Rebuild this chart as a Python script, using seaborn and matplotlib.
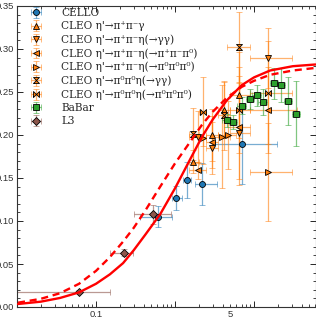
import numpy as np
import pandas as pd
import matplotlib
matplotlib.use("Agg")
import matplotlib.pyplot as plt
import matplotlib.ticker as mticker
import seaborn as sns

# Curves: Q^2 F(Q^2)
curve_q2 = [0.0103, 0.02, 0.035, 0.061, 0.1, 0.15, 0.22, 0.3, 0.42, 0.65, 1.0, 1.5, 2.2, 3.0, 4.5, 7, 10, 16, 31, 60]
solid_f = [0.0035, 0.0062, 0.0105, 0.017, 0.027, 0.038, 0.051, 0.066, 0.084, 0.108, 0.138, 0.169, 0.198,
           0.218, 0.240, 0.258, 0.267, 0.275, 0.280, 0.282]
dashed_f = [0.005, 0.0095, 0.016, 0.027, 0.042, 0.058, 0.076, 0.092, 0.112, 0.140, 0.167, 0.190, 0.212,
            0.227, 0.243, 0.256, 0.263, 0.270, 0.275, 0.278]

# CELLO
cello_q2 = [0.61, 1.02, 1.42, 2.20, 7.05]
cello_lo = [0.36, 0.92, 1.25, 1.8, 3.2]
cello_hi = [0.92, 1.23, 1.6, 3.4, 19.5]
cello_f = [0.105, 0.127, 0.148, 0.143, 0.190]
cello_err = [0.012, 0.014, 0.021, 0.024, 0.047]

# CLEO modes
cleo_a_q2 = [1.69, 2.94, 4.17, 6.46]
cleo_a_lo = [1.5, 2.5, 3.5, 5.0]
cleo_a_hi = [2.0, 3.5, 5.0, 9.0]
cleo_a_f = [0.169, 0.200, 0.229, 0.247]
cleo_a_err = [0.013, 0.03, 0.033, 0.05]

cleo_b_q2 = [1.95, 2.94, 6.46, 15.0]
cleo_b_lo = [1.5, 2.5, 5.0, 9.0]
cleo_b_hi = [2.5, 3.5, 9.0, 30.0]
cleo_b_f = [0.198, 0.185, 0.202, 0.290]
cleo_b_err = [0.03, 0.03, 0.06, 0.035]

cleo_c_q2 = [1.95, 2.94, 6.46, 15.0]
cleo_c_lo = [1.5, 2.5, 5.0, 9.0]
cleo_c_hi = [2.5, 3.5, 9.0, 35.0]
cleo_c_f = [0.159, 0.192, 0.209, 0.229]
cleo_c_err = [0.01, 0.03, 0.06, 0.05]

cleo_d_q2 = [2.26, 3.93, 4.69, 15.0]
cleo_d_lo = [2.0, 3.0, 3.5, 9.0]
cleo_d_hi = [2.5, 5.0, 6.0, 30.0]
cleo_d_f = [0.196, 0.198, 0.200, 0.157]
cleo_d_err = [0.03, 0.06, 0.04, 0.057]

cleo_e_q2 = [1.69, 4.17, 6.46]
cleo_e_lo = [1.5, 3.5, 4.5]
cleo_e_hi = [2.0, 5.0, 9.0]
cleo_e_f = [0.201, 0.223, 0.302]
cleo_e_err = [0.03, 0.04, 0.041]

cleo_g_q2 = [2.26, 6.46, 15.0]
cleo_g_lo = [2.0, 5.0, 9.0]
cleo_g_hi = [2.5, 9.0, 30.0]
cleo_g_f = [0.227, 0.229, 0.249]
cleo_g_err = [0.04, 0.05, 0.06]

# BaBar
babar_q2 = [4.51, 5.47, 6.99, 8.89, 10.8, 12.9, 18.1, 22.0, 27.2, 34.0]
babar_f = [0.217, 0.215, 0.234, 0.242, 0.246, 0.238, 0.260, 0.258, 0.240, 0.225]
babar_err = [0.008, 0.008, 0.01, 0.012, 0.012, 0.015, 0.018, 0.02, 0.028, 0.038]
babar_frac = 0.12

# L3
l3_q2 = [0.061, 0.226, 0.52]
l3_lo = [0.005, 0.15, 0.30]
l3_hi = [0.15, 0.29, 0.90]
l3_f = [0.018, 0.063, 0.108]
l3_err = [0.002, 0.004, 0.011]

sns.set_style("ticks")
plt.rcParams['font.family'] = ['Liberation Sans', 'DejaVu Sans']
plt.rcParams['xtick.direction'] = 'in'
plt.rcParams['ytick.direction'] = 'in'
plt.rcParams['xtick.top'] = True
plt.rcParams['ytick.right'] = True

fig = plt.figure(figsize=(3.16, 3.21), dpi=100)
ax = fig.add_axes([17 / 316, 1 - 307 / 321, 298.5 / 316, 301 / 321])

hourglass = [(-1, -1), (1, -1), (-1, 1), (1, 1), (-1, -1)]
bowtie = [(-1, -1), (-1, 1), (1, -1), (1, 1), (-1, -1)]

orange = "#ff7f0e"


def draw(q2, lo, hi, f, err, color, marker, label, ms=4.3):
    q2 = np.array(q2)
    xerr = [q2 - np.array(lo), np.array(hi) - q2]
    eb = ax.errorbar(q2, f, xerr=xerr, yerr=err, marker=marker, ls="none", color=color,
                     mec="black", mew=0.6, ms=ms, ecolor=color, elinewidth=0.9,
                     capsize=2.5, capthick=0.9, label=label, zorder=2)
    for part in eb[1] + eb[2]:
        part.set_alpha(0.6)
    return eb


draw(cello_q2, cello_lo, cello_hi, cello_f, cello_err, "#1f77b4", "o", "CELLO")
draw(cleo_a_q2, cleo_a_lo, cleo_a_hi, cleo_a_f, cleo_a_err, orange, "^", "CLEO η'→π⁺π⁻γ")
draw(cleo_b_q2, cleo_b_lo, cleo_b_hi, cleo_b_f, cleo_b_err, orange, "v", "CLEO η'→π⁺π⁻η(→γγ)")
draw(cleo_c_q2, cleo_c_lo, cleo_c_hi, cleo_c_f, cleo_c_err, orange, "<", "CLEO η'→π⁺π⁻η(→π⁺π⁻π⁰)")
draw(cleo_d_q2, cleo_d_lo, cleo_d_hi, cleo_d_f, cleo_d_err, orange, ">", "CLEO η'→π⁺π⁻η(→π⁰π⁰π⁰)")
draw(cleo_e_q2, cleo_e_lo, cleo_e_hi, cleo_e_f, cleo_e_err, orange, hourglass, "CLEO η'→π⁰π⁰η(→γγ)")
draw(cleo_g_q2, cleo_g_lo, cleo_g_hi, cleo_g_f, cleo_g_err, orange, bowtie, "CLEO η'→π⁰π⁰η(→π⁰π⁰π⁰)")
bq = np.array(babar_q2)
draw(bq, bq * (1 - babar_frac), bq * (1 + babar_frac), babar_f, babar_err, "#2ca02c", "s", "BaBar", ms=4.8)
draw(l3_q2, l3_lo, l3_hi, l3_f, l3_err, "#8c564b", "D", "L3", ms=3.8)

curves = pd.DataFrame({"q2": curve_q2, "solid": solid_f, "dashed": dashed_f})
sns.lineplot(data=curves, x="q2", y="solid", ax=ax, color="red", lw=1.7, estimator=None, zorder=3)
sns.lineplot(data=curves, x="q2", y="dashed", ax=ax, color="red", lw=1.7, ls=(0, (3, 2)), estimator=None, zorder=3)

ax.set_xscale("log")
ax.set_xlim(0.01, 60)
ax.set_ylim(0, 0.35)
ax.set_xlabel("")
ax.set_ylabel("")

ax.xaxis.set_major_locator(mticker.FixedLocator([0.01, 0.1, 1, 10]))
ax.xaxis.set_major_formatter(mticker.FixedFormatter(["", "0.1", "", ""]))
ax.xaxis.set_minor_locator(mticker.LogLocator(base=10, subs=np.arange(2, 10), numticks=20))
ax.xaxis.set_minor_formatter(mticker.FuncFormatter(lambda v, p: "5" if abs(v - 5) < 1e-6 else ""))
ax.yaxis.set_major_locator(mticker.MultipleLocator(0.05))
ax.yaxis.set_minor_locator(mticker.MultipleLocator(0.01))
ax.yaxis.set_major_formatter(mticker.FormatStrFormatter("%.2f"))

ax.tick_params(which="major", length=4, width=0.7, labelsize=6.8, pad=2.2, labelcolor="#333333")
ax.tick_params(which="minor", length=2, width=0.6, labelsize=6.8, pad=2.2, labelcolor="#333333")
for s in ax.spines.values():
    s.set_linewidth(0.8)
    s.set_color("#333333")

handles, labels = ax.get_legend_handles_labels()
ax.legend(handles, labels, loc="upper left", bbox_to_anchor=(0.02, 1.0), frameon=False,
          prop={"family": ["DejaVu Serif", "DejaVu Sans"], "size": 7.6},
          borderaxespad=0, borderpad=0.2, labelspacing=0.3, handlelength=2.1, handletextpad=1.3)

fig.savefig("out.png", dpi=100)
